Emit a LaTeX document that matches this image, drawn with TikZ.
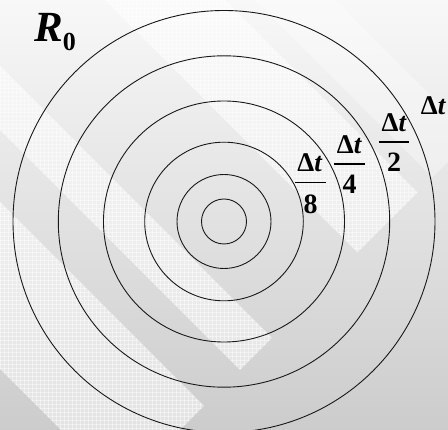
\documentclass[tikz,border=0pt]{standalone}
\usepackage{fontspec}
\setmainfont{Liberation Serif}
\definecolor{bgtop}{RGB}{248,248,248}
\definecolor{bgbot}{RGB}{204,204,204}
\definecolor{ringcol}{RGB}{25,25,25}
\begin{document}
\begin{tikzpicture}[x=1pt,y=-1pt,
  ring/.style={draw=ringcol, line width=0.9pt},
  frtext/.style={inner sep=0pt, anchor=base, font=\fontsize{27}{32}\selectfont\bfseries},
  frden/.style={inner sep=0pt, anchor=base, font=\fontsize{28}{32}\selectfont\bfseries},
  fbar/.style={draw=black, line width=1.3pt},
  lightband/.style={fill=white, opacity=0.35},
  texband/.style={fill=white, opacity=0.45},
  gridline/.style={draw=white, line width=0.5pt, opacity=0.45}]
\useasboundingbox (0,0) rectangle (448,430);
% background
\shade[top color=bgtop, bottom color=bgbot] (0,0) rectangle (448,430);
\begin{scope}
  \clip (0,0) rectangle (448,430);
  \fill[lightband] (-500,-835) -- (472.5,137.5) -- (432.5,177.5) -- (-500,-755) -- cycle;
\end{scope}
\begin{scope}
  \clip (0,0) rectangle (448,430);
  \clip (-500,-298) -- (204,406) -- (120.5,489.5) -- (-500,-131) -- cycle
        (-500,-434) -- (272,338) -- (240,370) -- (-500,-370) -- cycle
        (-500,-725) -- (417.5,192.5) -- (357.5,252.5) -- (-500,-605) -- cycle;
  \fill[texband] (0,0) rectangle (448,430);
  \foreach \k in {0,4,...,448} {\draw[gridline] (\k,0) -- (\k,430);}
  \foreach \k in {0,4,...,432} {\draw[gridline] (0,\k) -- (448,\k);}
\end{scope}
% rings
\coordinate (c) at (224,221.5);
\foreach \r in {22.5,47,79.3,120.5,165.7,211} {\draw[ring] (c) circle[radius=\r pt];}
% R0
\node[inner sep=0pt, anchor=base west] (r0) at (34,41.7)
  {\fontsize{43}{48}\selectfont\textbf{\textit{R}}\raisebox{-8.5pt}{\fontsize{26}{30}\selectfont\textbf{0}}};
% fractions
\node[frtext] (n8) at (310,171.5) {Δ\textit{t}};
\node[frden] (d8) at (310.5,213.5) {8};
\draw[fbar] (295,182.7) -- (326,182.7);
\node[frtext] (n4) at (349.5,153.3) {Δ\textit{t}};
\node[frden] (d4) at (349.5,193.5) {4};
\draw[fbar] (334,164) -- (365,164);
\node[frtext] (n2) at (394.2,131.7) {Δ\textit{t}};
\node[frden] (d2) at (394.2,171.5) {2};
\draw[fbar] (379,142) -- (409.3,142);
\node[frtext] (n1) at (433.4,115) {Δ\textit{t}};
\end{tikzpicture}
\end{document}
